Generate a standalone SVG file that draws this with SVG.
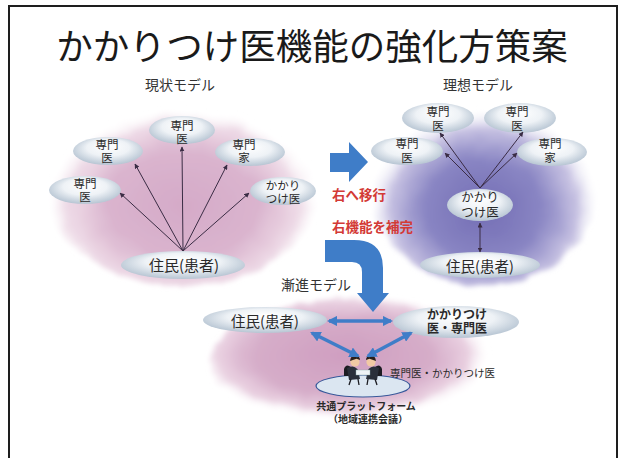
<svg xmlns="http://www.w3.org/2000/svg" width="623" height="458" viewBox="0 0 623 458">
  <style>
    text { font-family: "Noto Sans CJK JP", "Noto Sans", sans-serif; fill: #222; text-anchor: middle; }
    .title { font-size: 36.5px; fill: #1a1a1a; }
    .sub { font-size: 14px; fill: #333; }
    .lbl { font-size: 11.5px; fill: #2a2a2a; }
    .res { font-size: 15px; fill: #2a2a2a; }
    .red { font-size: 13.5px; font-weight: bold; fill: #d33a36; text-anchor: start; }
    .small { font-size: 10px; font-weight: bold; fill: #2a2a2a; }
    .node { fill: url(#nodeGrad); filter: url(#soft); }
    .thin { stroke: #3a2c44; stroke-width: 1; fill: none; marker-end: url(#tip); }
    .thin2 { stroke: #3a2c44; stroke-width: 1; fill: none; marker-start: url(#tip); marker-end: url(#tip); }
    .blue { stroke: #3f7dc8; stroke-width: 3.5; fill: none; marker-start: url(#btip); marker-end: url(#btip); }
  </style>
  <defs>
    <radialGradient id="nodeGrad" cx="50%" cy="45%" r="55%" fx="50%" fy="30%">
      <stop offset="0" stop-color="#ffffff"/>
      <stop offset="0.55" stop-color="#eef2f6"/>
      <stop offset="1" stop-color="#b7c5d3"/>
    </radialGradient>
    <radialGradient id="pinkHaze" cx="50%" cy="58%" r="50%">
      <stop offset="0" stop-color="#d5aac8"/>
      <stop offset="0.55" stop-color="#dab4ce"/>
      <stop offset="0.85" stop-color="#eedbe7"/>
      <stop offset="1" stop-color="#ffffff" stop-opacity="0"/>
    </radialGradient>
    <radialGradient id="purpleHaze" cx="50%" cy="60%" r="52%">
      <stop offset="0" stop-color="#736db4"/>
      <stop offset="0.5" stop-color="#8985c3"/>
      <stop offset="0.8" stop-color="#c6c1e2"/>
      <stop offset="1" stop-color="#ffffff" stop-opacity="0"/>
    </radialGradient>
    <radialGradient id="pinkHaze2" cx="45%" cy="45%" r="50%">
      <stop offset="0" stop-color="#cf9ec0"/>
      <stop offset="0.6" stop-color="#d6adc9"/>
      <stop offset="0.85" stop-color="#ead2e2"/>
      <stop offset="1" stop-color="#ffffff" stop-opacity="0"/>
    </radialGradient>
    <filter id="rough" x="-20%" y="-20%" width="140%" height="140%">
      <feTurbulence type="fractalNoise" baseFrequency="0.04" numOctaves="3" seed="4" result="n"/>
      <feDisplacementMap in="SourceGraphic" in2="n" scale="10" xChannelSelector="R" yChannelSelector="G" result="d"/>
      <feGaussianBlur in="d" stdDeviation="2.5"/>
    </filter>
    <filter id="soft" x="-10%" y="-20%" width="120%" height="140%">
      <feGaussianBlur stdDeviation="0.7"/>
    </filter>
    <marker id="tip" viewBox="0 0 10 10" refX="9" refY="5" markerWidth="5" markerHeight="5" orient="auto-start-reverse" markerUnits="userSpaceOnUse">
      <path d="M0,0 L10,5 L0,10 z" fill="#3a2c44"/>
    </marker>
    <marker id="btip" viewBox="0 0 10 10" refX="8" refY="5" markerWidth="3" markerHeight="3" orient="auto-start-reverse">
      <path d="M0,0 L10,5 L0,10 z" fill="#3f7dc8"/>
    </marker>
  </defs>

  <rect width="623" height="458" fill="#ffffff"/>
  <!-- slide frame -->
  <rect x="9" y="6" width="608" height="470" fill="none" stroke="#1e1e1e" stroke-width="2"/>

  <text class="title" x="312" y="60">かかりつけ医機能の強化方策案</text>

  <!-- background hazes -->
  <ellipse cx="183" cy="190" rx="136" ry="96" fill="url(#pinkHaze)" filter="url(#rough)"/>
  <ellipse cx="484" cy="190" rx="112" ry="96" fill="url(#purpleHaze)" filter="url(#rough)"/>
  <ellipse cx="358" cy="362" rx="148" ry="64" fill="url(#pinkHaze2)" filter="url(#rough)"/>

  <text class="sub" x="180" y="90">現状モデル</text>
  <text class="sub" x="478" y="90">理想モデル</text>
  <text class="sub" x="316" y="290">漸進モデル</text>

  <!-- current model nodes -->
  <g id="cur-spec1">
    <ellipse class="node" cx="85" cy="190" rx="36" ry="14"/>
    <text class="lbl" x="85" y="188">専門<tspan x="85" dy="13">医</tspan></text>
  </g>
  <g id="cur-spec2">
    <ellipse class="node" cx="108" cy="151" rx="35" ry="14"/>
    <text class="lbl" x="107" y="149">専門<tspan x="107" dy="13">医</tspan></text>
  </g>
  <g id="cur-spec3">
    <ellipse class="node" cx="182" cy="130" rx="33" ry="14"/>
    <text class="lbl" x="182" y="130">専門<tspan x="182" dy="12.5">医</tspan></text>
  </g>
  <g id="cur-expert">
    <ellipse class="node" cx="250" cy="152" rx="35" ry="14"/>
    <text class="lbl" x="244" y="149">専門<tspan x="244" dy="13">家</tspan></text>
  </g>
  <g id="cur-family">
    <ellipse class="node" cx="283" cy="191" rx="33" ry="14"/>
    <text class="lbl" x="283" y="190">かかり<tspan x="283" dy="12.5">つけ医</tspan></text>
  </g>
  <g id="cur-resident">
    <ellipse class="node" cx="183" cy="265" rx="62" ry="14"/>
    <text class="res" x="184" y="271">住民(患者)</text>
  </g>

  <!-- ideal model nodes -->
  <g id="ideal-spec1">
    <ellipse class="node" cx="438" cy="118" rx="36" ry="15"/>
    <text class="lbl" x="438" y="116">専門<tspan x="438" dy="13.5">医</tspan></text>
  </g>
  <g id="ideal-spec2">
    <ellipse class="node" cx="520" cy="118" rx="36" ry="15"/>
    <text class="lbl" x="517" y="116">専門<tspan x="517" dy="13.5">医</tspan></text>
  </g>
  <g id="ideal-spec3">
    <ellipse class="node" cx="407" cy="151" rx="36" ry="14"/>
    <text class="lbl" x="407" y="148">専門<tspan x="407" dy="13.5">医</tspan></text>
  </g>
  <g id="ideal-expert">
    <ellipse class="node" cx="552" cy="152" rx="35" ry="14"/>
    <text class="lbl" x="550" y="148">専門<tspan x="550" dy="13.5">家</tspan></text>
  </g>
  <g id="ideal-family">
    <ellipse class="node" cx="480" cy="205" rx="33" ry="16"/>
    <text class="lbl" x="480" y="202" style="font-size:12.5px">かかり<tspan x="480" dy="15">つけ医</tspan></text>
  </g>
  <g id="ideal-resident">
    <ellipse class="node" cx="480" cy="265" rx="60" ry="13"/>
    <text class="res" x="480" y="272" style="font-size:14.5px">住民(患者)</text>
  </g>

  <!-- gradual model nodes -->
  <g id="grad-resident">
    <ellipse class="node" cx="265" cy="320" rx="62" ry="13"/>
    <text class="res" x="265" y="327" style="font-size:14.5px">住民(患者)</text>
  </g>
  <g id="grad-doctors">
    <ellipse class="node" cx="456" cy="322" rx="63" ry="16"/>
    <text class="lbl" x="457" y="319" style="font-weight:bold;font-size:12px">かかりつけ<tspan x="457" dy="14">医・専門医</tspan></text>
  </g>
  <g id="platform">
    <ellipse cx="363" cy="386" rx="47" ry="11" fill="#dbe6f1" stroke="#37589a" stroke-width="1.2"/>
    <!-- two people seated at a small table -->
    <path d="M344,369 q2,-6 7,-2 l0,9 l-7,0 z" fill="#1c1c22"/>
    <path d="M382,369 q-2,-6 -7,-2 l0,9 l7,0 z" fill="#1c1c22"/>
    <path d="M347,368 q7,-4 11,2 l2,9 l-11,1 z" fill="#2a2f3a"/>
    <path d="M379,368 q-7,-4 -11,2 l-2,9 l11,1 z" fill="#2a2f3a"/>
    <circle cx="355" cy="362" r="4.6" fill="#f1c9a4"/>
    <circle cx="371" cy="362" r="4.6" fill="#f1c9a4"/>
    <path d="M350,361 q1,-7 6.5,-5.5 q3.5,1 3.5,4.5 l-3.5,-1.2 z" fill="#2a1f1a"/>
    <path d="M376,361 q-1,-7 -6.5,-5.5 q-3.5,1 -3.5,4.5 l3.5,-1.2 z" fill="#2a1f1a"/>
    <rect x="356" y="370" width="14" height="5" fill="#eef3f6" stroke="#8aa" stroke-width="0.4"/>
    <path d="M351,379 l-2,6 M358,379 l1,6 M368,379 l-1,6 M375,379 l2,6" stroke="#1c1c22" stroke-width="1.3"/>
    <text class="small" x="366" y="410">共通プラットフォーム</text>
    <text class="small" x="368" y="423">（地域連携会議）</text>
  </g>
  <text x="390" y="377" style="font-size:10.5px;text-anchor:start;fill:#2a2a2a">専門医・かかりつけ医</text>

  <!-- transition arrows and captions -->
  <path d="M330,153 L349,153 L349,142 L368,162 L349,182 L349,172 L330,172 z" fill="#3f7dc8"/>
  <path d="M325,240 L354,240 Q383,240 383,268 L383,293 L389,293 L373,312 L357,293 L362,293 L362,272 Q362,262 352,262 L325,262 z" fill="#3f7dc8"/>
  <text class="red" x="332" y="200">右へ移行</text>
  <text class="red" x="332" y="232">右機能を補完</text>

  <!-- connectors -->
  <g id="connectors">
    <line class="thin" x1="183" y1="251" x2="120" y2="193"/>
    <line class="thin" x1="183" y1="251" x2="135" y2="164"/>
    <line class="thin" x1="183" y1="251" x2="182" y2="147"/>
    <line class="thin" x1="183" y1="251" x2="227" y2="165"/>
    <line class="thin" x1="183" y1="251" x2="249" y2="193"/>

    <line class="thin" x1="480" y1="188" x2="440" y2="133"/>
    <line class="thin" x1="480" y1="188" x2="445" y2="153"/>
    <line class="thin" x1="480" y1="188" x2="523" y2="132"/>
    <line class="thin" x1="480" y1="188" x2="517" y2="153"/>
    <line class="thin2" x1="480" y1="223" x2="480" y2="252"/>

    <line class="blue" x1="329" y1="321" x2="391" y2="321"/>
    <line class="blue" x1="312" y1="333" x2="358" y2="356"/>
    <line class="blue" x1="411" y1="333" x2="368" y2="356"/>
  </g>
</svg>
